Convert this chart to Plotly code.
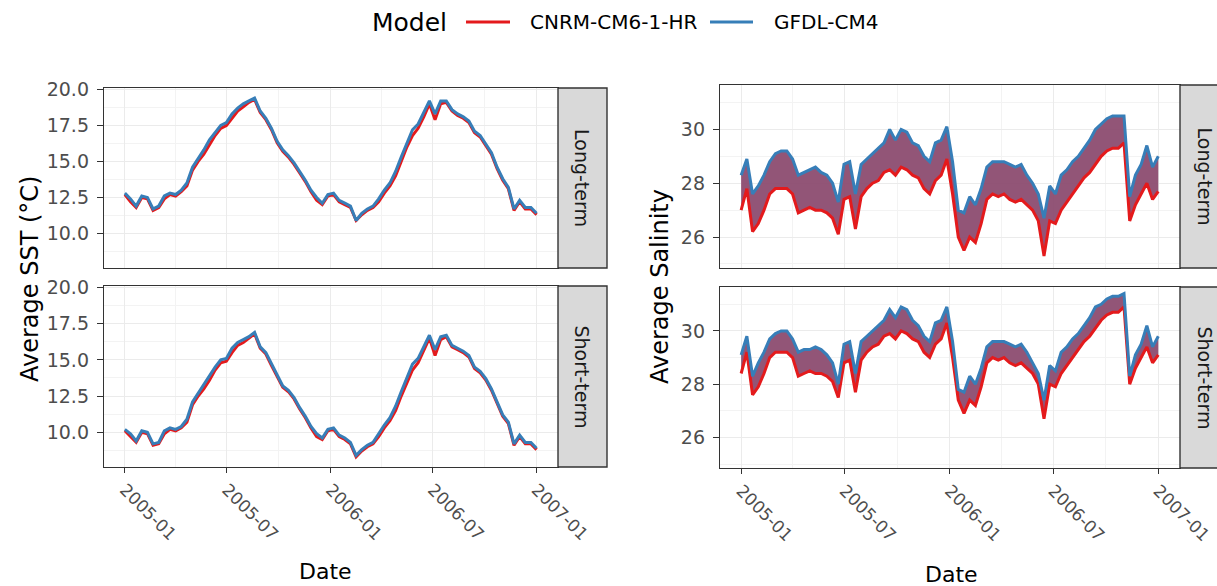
import pandas as pd
import plotly.graph_objects as go

W, H = 1217, 586

# ---------------- data ----------------
dates = pd.date_range("2005-01-01", "2007-01-01", freq="10D")

models = ["CNRM-CM6-1-HR", "GFDL-CM4"]
colors = {"CNRM-CM6-1-HR": "#E41A1C", "GFDL-CM4": "#377EB8"}

sst_long_cnrm = [12.7,12.2,11.8,12.5,12.4,11.6,11.8,12.4,12.7,12.6,12.9,13.3,14.4,15.0,15.5,16.2,16.8,17.3,17.5,18.0,
                 18.5,18.8,19.1,19.3,18.4,17.9,17.2,16.3,15.7,15.3,14.8,14.2,13.6,12.9,12.3,12.0,12.6,12.7,12.2,12.0,
                 11.8,10.9,11.3,11.6,11.8,12.2,12.8,13.3,14.0,15.0,16.0,16.8,17.3,18.1,19.0,17.9,19.0,19.1,18.5,18.2,
                 18.0,17.7,17.0,16.7,16.1,15.5,14.5,13.7,13.1,11.6,12.2,11.7,11.7,11.3]
sst_long_gfdl = [12.8,12.4,11.9,12.6,12.5,11.7,11.9,12.6,12.8,12.7,13.0,13.5,14.6,15.2,15.8,16.5,17.0,17.5,17.7,18.3,
                 18.7,19.0,19.2,19.4,18.5,18.0,17.3,16.4,15.8,15.4,14.9,14.3,13.7,13.0,12.5,12.1,12.7,12.8,12.3,12.1,
                 11.9,10.9,11.4,11.7,11.9,12.4,13.0,13.5,14.3,15.3,16.3,17.2,17.6,18.4,19.2,18.3,19.2,19.2,18.6,18.3,
                 18.1,17.8,17.1,16.8,16.2,15.6,14.6,13.8,13.2,11.7,12.3,11.8,11.8,11.4]
sst_short_cnrm = [10.1,9.7,9.3,10.0,9.9,9.1,9.2,9.9,10.2,10.1,10.3,10.7,11.9,12.5,13.0,13.6,14.3,14.8,14.9,15.5,
                  16.0,16.2,16.5,16.8,15.8,15.4,14.6,13.8,13.1,12.8,12.3,11.6,11.0,10.3,9.7,9.5,10.1,10.2,9.7,9.5,
                  9.2,8.3,8.7,9.0,9.2,9.7,10.3,10.8,11.5,12.5,13.4,14.3,14.8,15.6,16.5,15.3,16.4,16.6,15.9,15.7,
                  15.5,15.2,14.4,14.1,13.6,12.9,12.0,11.1,10.6,9.1,9.7,9.2,9.2,8.8]
sst_short_gfdl = [10.2,9.9,9.4,10.1,10.0,9.2,9.3,10.1,10.3,10.2,10.4,10.9,12.1,12.7,13.3,13.9,14.5,15.0,15.1,15.8,
                  16.2,16.4,16.6,16.9,15.9,15.5,14.7,13.9,13.2,12.9,12.4,11.7,11.1,10.4,9.9,9.6,10.2,10.3,9.8,9.6,
                  9.3,8.4,8.8,9.1,9.3,9.9,10.5,11.0,11.8,12.8,13.7,14.7,15.1,15.9,16.7,15.7,16.6,16.7,16.0,15.8,
                  15.6,15.3,14.5,14.2,13.7,13.0,12.1,11.2,10.7,9.2,9.8,9.3,9.3,8.9]

sal_long_cnrm = [27.0,27.8,26.2,26.5,27.0,27.6,27.8,27.8,27.8,27.6,26.9,27.0,27.1,27.0,27.0,26.9,26.7,26.1,27.4,27.5,
                 26.3,27.5,27.8,28.0,28.1,28.4,28.5,28.3,28.6,28.5,28.3,28.2,27.8,27.6,28.1,28.3,28.9,27.6,26.0,25.5,
                 26.0,25.8,26.5,27.4,27.6,27.5,27.6,27.4,27.3,27.4,27.2,27.0,26.6,25.3,26.6,26.5,27.0,27.3,27.6,27.9,
                 28.2,28.4,28.7,29.0,29.2,29.3,29.3,29.5,26.6,27.2,27.6,28.0,27.4,27.7]
sal_long_gfdl = [28.3,28.9,27.6,27.9,28.3,28.8,29.1,29.2,29.2,28.9,28.3,28.4,28.5,28.6,28.4,28.3,28.0,27.3,28.7,28.8,
                 27.6,28.7,28.9,29.1,29.3,29.5,30.0,29.6,30.0,29.9,29.5,29.4,29.0,28.8,29.5,29.6,30.1,28.8,27.0,26.9,
                 27.5,27.2,27.8,28.6,28.8,28.8,28.8,28.7,28.6,28.7,28.3,28.0,27.6,26.7,27.9,27.6,28.3,28.5,28.8,29.0,
                 29.3,29.6,30.0,30.2,30.4,30.5,30.5,30.5,27.5,28.3,28.7,29.4,28.6,29.0]
sal_short_cnrm = [28.4,29.2,27.6,27.9,28.4,29.0,29.2,29.2,29.2,29.0,28.3,28.4,28.5,28.4,28.4,28.3,28.1,27.5,28.8,28.9,
                  27.7,28.9,29.2,29.4,29.5,29.8,29.9,29.7,30.0,29.9,29.7,29.6,29.2,29.0,29.5,29.7,30.3,29.0,27.4,26.9,
                  27.4,27.2,27.9,28.8,29.0,28.9,29.0,28.8,28.7,28.8,28.6,28.4,28.0,26.7,28.0,27.9,28.4,28.7,29.0,29.3,
                  29.6,29.8,30.1,30.4,30.6,30.7,30.7,30.9,28.0,28.6,29.0,29.4,28.8,29.1]
sal_short_gfdl = [29.1,29.8,28.3,28.8,29.2,29.7,29.9,30.0,30.0,29.7,29.2,29.3,29.3,29.4,29.3,29.1,28.8,28.0,29.5,29.6,
                  28.4,29.6,29.8,30.0,30.2,30.4,30.8,30.5,30.9,30.8,30.4,30.2,29.8,29.6,30.3,30.4,30.9,29.6,27.8,27.7,
                  28.3,28.0,28.6,29.4,29.6,29.6,29.6,29.5,29.4,29.5,29.2,28.8,28.4,27.4,28.7,28.5,29.2,29.4,29.7,29.9,
                  30.2,30.5,30.9,31.0,31.2,31.3,31.3,31.4,28.3,29.1,29.5,30.2,29.4,29.8]

facets = ["Long-term", "Short-term"]
x_ticks = ["2005-01-01", "2005-07-01", "2006-01-01", "2006-07-01", "2007-01-01"]
x_tick_labels = ["2005-01", "2005-07", "2006-01", "2006-07", "2007-01"]

# ---------------- layout helpers ----------------
def px_x(p):
    return p / W

def px_y(p):
    return 1 - p / H

FONT = "DejaVu Sans"
GRID = "#EBEBEB"
MINOR = "#F3F3F3"
BORDER = "#333333"
TICKC = "#4D4D4D"

# panel pixel boxes: (x0, x1, y_top, y_bottom)
panels = {
    1: (104, 558, 88, 268),   # SST long
    2: (104, 558, 286, 467),  # SST short
    3: (720, 1180, 85, 268),  # Sal long
    4: (720, 1180, 287, 468), # Sal short
}

fig = go.Figure()

def add_line(ax, x, y, model, fill=None, fillcolor=None):
    xa = "x" if ax == 1 else f"x{ax}"
    ya = "y" if ax == 1 else f"y{ax}"
    fig.add_trace(go.Scatter(
        x=x, y=y, mode="lines", name=model, legendgroup=model,
        line=dict(color=colors[model], width=3),
        fill=fill, fillcolor=fillcolor, showlegend=False,
        xaxis=xa, yaxis=ya, hoverinfo="skip"))

BAND = "rgba(140,76,112,0.95)"
add_line(1, dates, sst_long_cnrm, "CNRM-CM6-1-HR")
add_line(1, dates, sst_long_gfdl, "GFDL-CM4")
add_line(2, dates, sst_short_cnrm, "CNRM-CM6-1-HR")
add_line(2, dates, sst_short_gfdl, "GFDL-CM4")
add_line(3, dates, sal_long_cnrm, "CNRM-CM6-1-HR")
add_line(3, dates, sal_long_gfdl, "GFDL-CM4", fill="tonexty", fillcolor=BAND)
add_line(4, dates, sal_short_cnrm, "CNRM-CM6-1-HR")
add_line(4, dates, sal_short_gfdl, "GFDL-CM4", fill="tonexty", fillcolor=BAND)

layout = dict(
    width=W, height=H, autosize=False,
    margin=dict(l=0, r=0, t=0, b=0),
    paper_bgcolor="white", plot_bgcolor="white",
    font=dict(family=FONT, color="black"),
    showlegend=False,
)

for k, (x0, x1, y0, y1) in panels.items():
    xs = "xaxis" if k == 1 else f"xaxis{k}"
    ys = "yaxis" if k == 1 else f"yaxis{k}"
    bottom = k in (2, 4)
    sal = k in (3, 4)
    layout[xs] = dict(
        domain=[px_x(x0), px_x(x1)], anchor="y" if k == 1 else f"y{k}",
        type="date",
        range=[pd.Timestamp("2004-11-25"), pd.Timestamp("2007-02-08")],
        tickvals=x_ticks, ticktext=x_tick_labels,
        showticklabels=bottom, ticks="outside" if bottom else "", ticklen=5, tickwidth=1.3, tickcolor=BORDER,
        tickangle=45, tickfont=dict(size=17, color=TICKC, family=FONT),
        showgrid=True, gridcolor=GRID, gridwidth=1.4,
        minor=dict(dtick="M3", tick0="2005-01-01", showgrid=True, gridcolor=MINOR, gridwidth=0.8, ticks=""),
        showline=True, linecolor=BORDER, linewidth=1.4, mirror=True, zeroline=False, automargin=False,
    )
    if sal:
        yd = dict(range=[24.85, 31.65], tickvals=[26, 28, 30], ticktext=["26", "28", "30"],
                  minor=dict(tickvals=[25, 27, 29, 31], showgrid=True, gridcolor=MINOR, gridwidth=0.8, ticks=""))
    else:
        yd = dict(range=[7.6, 20.1], tickvals=[10, 12.5, 15, 17.5, 20],
                  ticktext=["10.0", "12.5", "15.0", "17.5", "20.0"],
                  minor=dict(tickvals=[8.75, 11.25, 13.75, 16.25, 18.75], showgrid=True,
                             gridcolor=MINOR, gridwidth=0.8, ticks=""))
    layout[ys] = dict(
        domain=[px_y(y1), px_y(y0)], anchor="x" if k == 1 else f"x{k}",
        ticks="outside", ticklen=6, tickwidth=1.3, tickcolor=BORDER, ticklabelstandoff=4,
        tickfont=dict(size=19, color=TICKC, family=FONT),
        showgrid=True, gridcolor=GRID, gridwidth=1.4,
        showline=True, linecolor=BORDER, linewidth=1.4, mirror=True, zeroline=False, automargin=False,
        **yd)

fig.update_layout(**layout)

# strips
strip_boxes = [
    (558, 607, 88, 268, facets[0], 582),
    (558, 607, 286, 467, facets[1], 582),
    (1180, 1245, 85, 268, facets[0], 1205),
    (1180, 1245, 287, 468, facets[1], 1205),
]
for x0, x1, y0, y1, lab, cx in strip_boxes:
    fig.add_shape(type="rect", xref="paper", yref="paper",
                  x0=px_x(x0), x1=px_x(x1), y0=px_y(y1), y1=px_y(y0),
                  fillcolor="#D9D9D9", line=dict(color=BORDER, width=1.4), layer="above")
    fig.add_annotation(x=px_x(cx), y=px_y((y0 + y1) / 2), xref="paper", yref="paper",
                       xanchor="center", yanchor="middle",
                       text=lab, textangle=90, showarrow=False,
                       font=dict(size=19, color="#1A1A1A", family=FONT))

# axis titles
def title(text, x, y, angle=0, size=24):
    fig.add_annotation(x=px_x(x), y=px_y(y), xref="paper", yref="paper", text=text,
                       xanchor="center", yanchor="middle", textangle=angle, showarrow=False,
                       font=dict(size=size, color="black", family=FONT))

title("Average SST (°C)", 30, 279, -90, 24)
title("Average Salinity", 660, 287, -90, 24)
title("Date", 325, 571, 0, 22)
title("Date", 951, 574, 0, 22)

# legend (drawn as guide: title, key lines and labels)
LEG_Y = 22
fig.add_annotation(x=px_x(370), y=px_y(LEG_Y), xref="paper", yref="paper", text="Model",
                   xanchor="left", yanchor="middle", showarrow=False,
                   font=dict(size=25, color="black", family=FONT))
legend_items = [(models[0], 466, 510, 528), (models[1], 710, 753, 772)]
for name, lx0, lx1, tx in legend_items:
    fig.add_shape(type="line", xref="paper", yref="paper",
                  x0=px_x(lx0), x1=px_x(lx1), y0=px_y(LEG_Y), y1=px_y(LEG_Y),
                  line=dict(color=colors[name], width=3))
    fig.add_annotation(x=px_x(tx), y=px_y(LEG_Y), xref="paper", yref="paper", text=name,
                       xanchor="left", yanchor="middle", showarrow=False,
                       font=dict(size=20, color="black", family=FONT))

fig.write_html("out.html", post_script="document.body.style.margin='0px';",
               config={"displayModeBar": False})
